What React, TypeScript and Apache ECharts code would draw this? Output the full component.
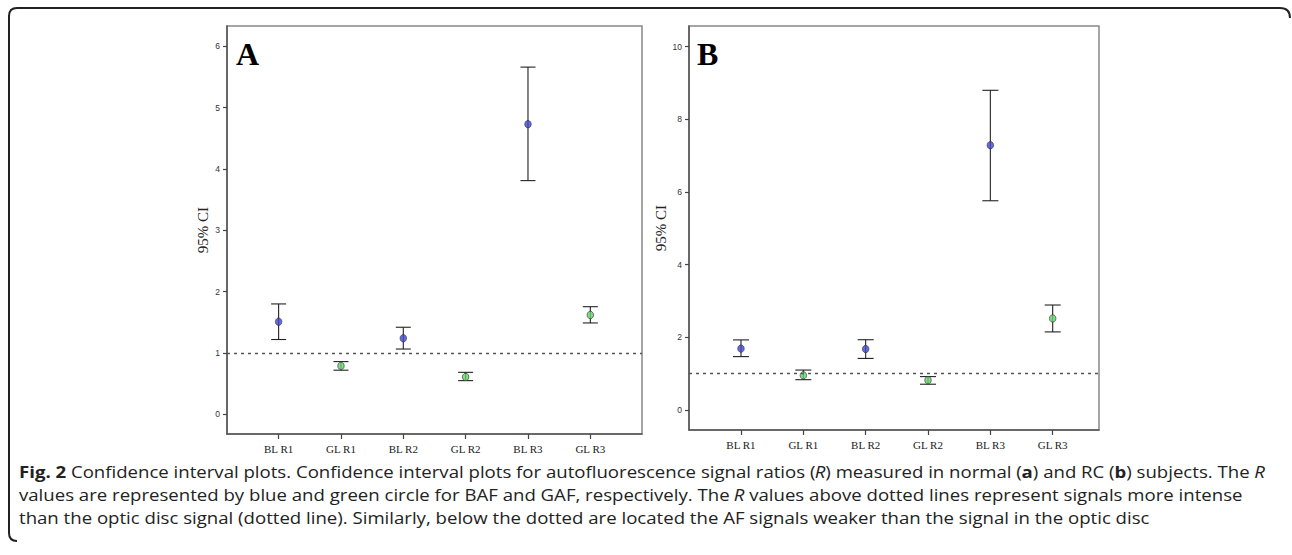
import React, { useEffect, useRef } from "react";
import * as echarts from "echarts";

// ---- data ----
const categories = ["BL R1", "GL R1", "BL R2", "GL R2", "BL R3", "GL R3"];
const meanA = [1.51, 0.79, 1.24, 0.61, 4.73, 1.62];
const lowA = [1.22, 0.72, 1.065, 0.55, 3.81, 1.49];
const highA = [1.8, 0.86, 1.42, 0.685, 5.66, 1.755];
const meanB = [1.69, 0.955, 1.68, 0.82, 7.29, 2.52];
const lowB = [1.47, 0.835, 1.42, 0.71, 5.76, 2.15];
const highB = [1.93, 1.1, 1.935, 0.92, 8.8, 2.89];
const yTicksA = [0, 1, 2, 3, 4, 5, 6];
const yTicksB = [0, 2, 4, 6, 8, 10];
const xPositions = [1, 2, 3, 4, 5, 6];
const referenceLine = 1;
const yTitle = "95% CI";
const panelLabels = ["A", "B"];
const captionLines = [
  "{b|Fig. 2} Confidence interval plots. Confidence interval plots for autofluorescence signal ratios ({i|R}) measured in normal ({b|a}) and RC ({b|b}) subjects. The {i|R}",
  "values are represented by blue and green circle for BAF and GAF, respectively. The {i|R} values above dotted lines represent signals more intense",
  "than the optic disc signal (dotted line). Similarly, below the dotted are located the AF signals weaker than the signal in the optic disc",
];

const BLUE = "#4046d6";
const GREEN = "#63d46a";

echarts.graphic.registerShape(
  "frameLine",
  echarts.graphic.extendPath(
    "M 1290 18 Q 1290 8 1280 8 L 17 8 Q 9 8 9 16 L 9 533 Q 9 541 17 541",
    {}
  )
);

function buildPanel(idx: number, means: number[], lows: number[], highs: number[], ticks: number[], yMin: number, yMax: number, xMin: number, xMax: number, nameGap: number, capHalf: number) {
  const xAxis = {
    type: "value",
    gridIndex: idx,
    min: xMin,
    max: xMax,
    splitLine: { show: false },
    axisLine: { show: true, onZero: false, lineStyle: { color: "#555", width: 1.5 } },
    axisTick: { show: true, length: 5, customValues: xPositions, lineStyle: { color: "#444", width: 1.2 } },
    axisLabel: {
      customValues: xPositions,
      margin: 9,
      formatter: (v: number) => categories[Math.round(v) - 1] || "",
      fontFamily: "Liberation Serif",
      fontSize: 11,
      color: "#222",
    },
  };
  const yAxis = {
    type: "value",
    gridIndex: idx,
    min: yMin,
    max: yMax,
    name: yTitle,
    nameLocation: "middle",
    nameGap,
    nameTextStyle: { fontFamily: "Liberation Serif", fontSize: 15, color: "#222" },
    splitLine: { show: false },
    axisLine: { show: true, onZero: false, lineStyle: { color: "#555", width: 1.5 } },
    axisTick: { show: true, length: 4, customValues: ticks, lineStyle: { color: "#444", width: 1.2 } },
    axisLabel: {
      customValues: ticks,
      margin: 7,
      fontFamily: "Liberation Sans",
      fontSize: 8.5,
      color: "#333",
    },
  };
  const errData = xPositions.map((x, i) => [x, means[i], lows[i], highs[i]]);
  const series = [
    {
      type: "custom",
      xAxisIndex: idx,
      yAxisIndex: idx,
      encode: { x: 0, y: [1, 2, 3] },
      data: errData,
      z: 2,
      renderItem: (params: any, api: any) => {
        const x = api.value(0);
        const lo = api.coord([x, api.value(2)]);
        const hi = api.coord([x, api.value(3)]);
        const st = { stroke: "#222", lineWidth: 1.1 };
        return {
          type: "group",
          children: [
            { type: "line", shape: { x1: lo[0], y1: lo[1], x2: hi[0], y2: hi[1] }, style: st },
            { type: "line", shape: { x1: lo[0] - capHalf, y1: lo[1], x2: lo[0] + capHalf, y2: lo[1] }, style: st },
            { type: "line", shape: { x1: hi[0] - capHalf, y1: hi[1], x2: hi[0] + capHalf, y2: hi[1] }, style: st },
          ],
        };
      },
    },
    {
      type: "scatter",
      xAxisIndex: idx,
      yAxisIndex: idx,
      z: 3,
      symbol: "circle",
      symbolSize: [6.5, 7.5],
      data: xPositions.map((x, i) => ({
        value: [x, means[i]],
        itemStyle: {
          color: categories[i].startsWith("BL") ? BLUE : GREEN,
          borderColor: "#333",
          borderWidth: 0.8,
        },
      })),
      markLine: {
        silent: true,
        symbol: "none",
        label: { show: false },
        lineStyle: { type: [3, 4], color: "#555", width: 1.3 },
        data: [{ yAxis: referenceLine }],
      },
    },
  ];
  return { xAxis, yAxis, series };
}

export default function App() {
  const ref = useRef<HTMLDivElement>(null);
  useEffect(() => {
    if (!ref.current) return;
    const chart = echarts.init(ref.current, null, { renderer: "svg" });
    const pA = buildPanel(0, meanA, lowA, highA, yTicksA, -0.32, 6.33, 0.172, 6.829, 17, 7.5);
    const pB = buildPanel(1, meanB, lowB, highB, yTicksB, -0.55, 10.57, 0.166, 6.743, 19, 8);
    const richBase = { fontFamily: "Open Sans", fontSize: 16.8, lineHeight: 20, fill: "#222" };
    chart.setOption({
      animation: false,
      backgroundColor: "#fff",
      grid: [
        { left: 227, top: 26, width: 415, height: 408, show: true, borderColor: "#888", borderWidth: 1.5, backgroundColor: "transparent" },
        { left: 689, top: 26, width: 410, height: 404, show: true, borderColor: "#888", borderWidth: 1.5, backgroundColor: "transparent" },
      ],
      xAxis: [pA.xAxis, pB.xAxis],
      yAxis: [pA.yAxis, pB.yAxis],
      series: [...pA.series, ...pB.series],
      graphic: [
        { type: "frameLine", x: 0, y: 0, style: { fill: "none", stroke: "#222", lineWidth: 2 } },
        { type: "text", x: 236, y: 54, style: { text: panelLabels[0], fontFamily: "Liberation Serif", fontWeight: "bold", fontSize: 32, fill: "#000", verticalAlign: "middle" } },
        { type: "text", x: 697, y: 54, style: { text: panelLabels[1], fontFamily: "Liberation Serif", fontWeight: "bold", fontSize: 32, fill: "#000", verticalAlign: "middle" } },
        ...captionLines.map((t, i) => ({
          type: "text",
          x: 19,
          y: 471.5 + i * 23,
          scaleX: 1.107,
          style: {
            text: t,
            ...richBase,
            verticalAlign: "middle",
            rich: {
              b: { ...richBase, fontWeight: "bold" },
              i: { ...richBase, fontStyle: "italic" },
            },
          },
        })),
      ],
    });
    return () => chart.dispose();
  }, []);
  return <div ref={ref} style={{ position: "absolute", left: 0, top: 0, width: 1292, height: 555 }} />;
}
